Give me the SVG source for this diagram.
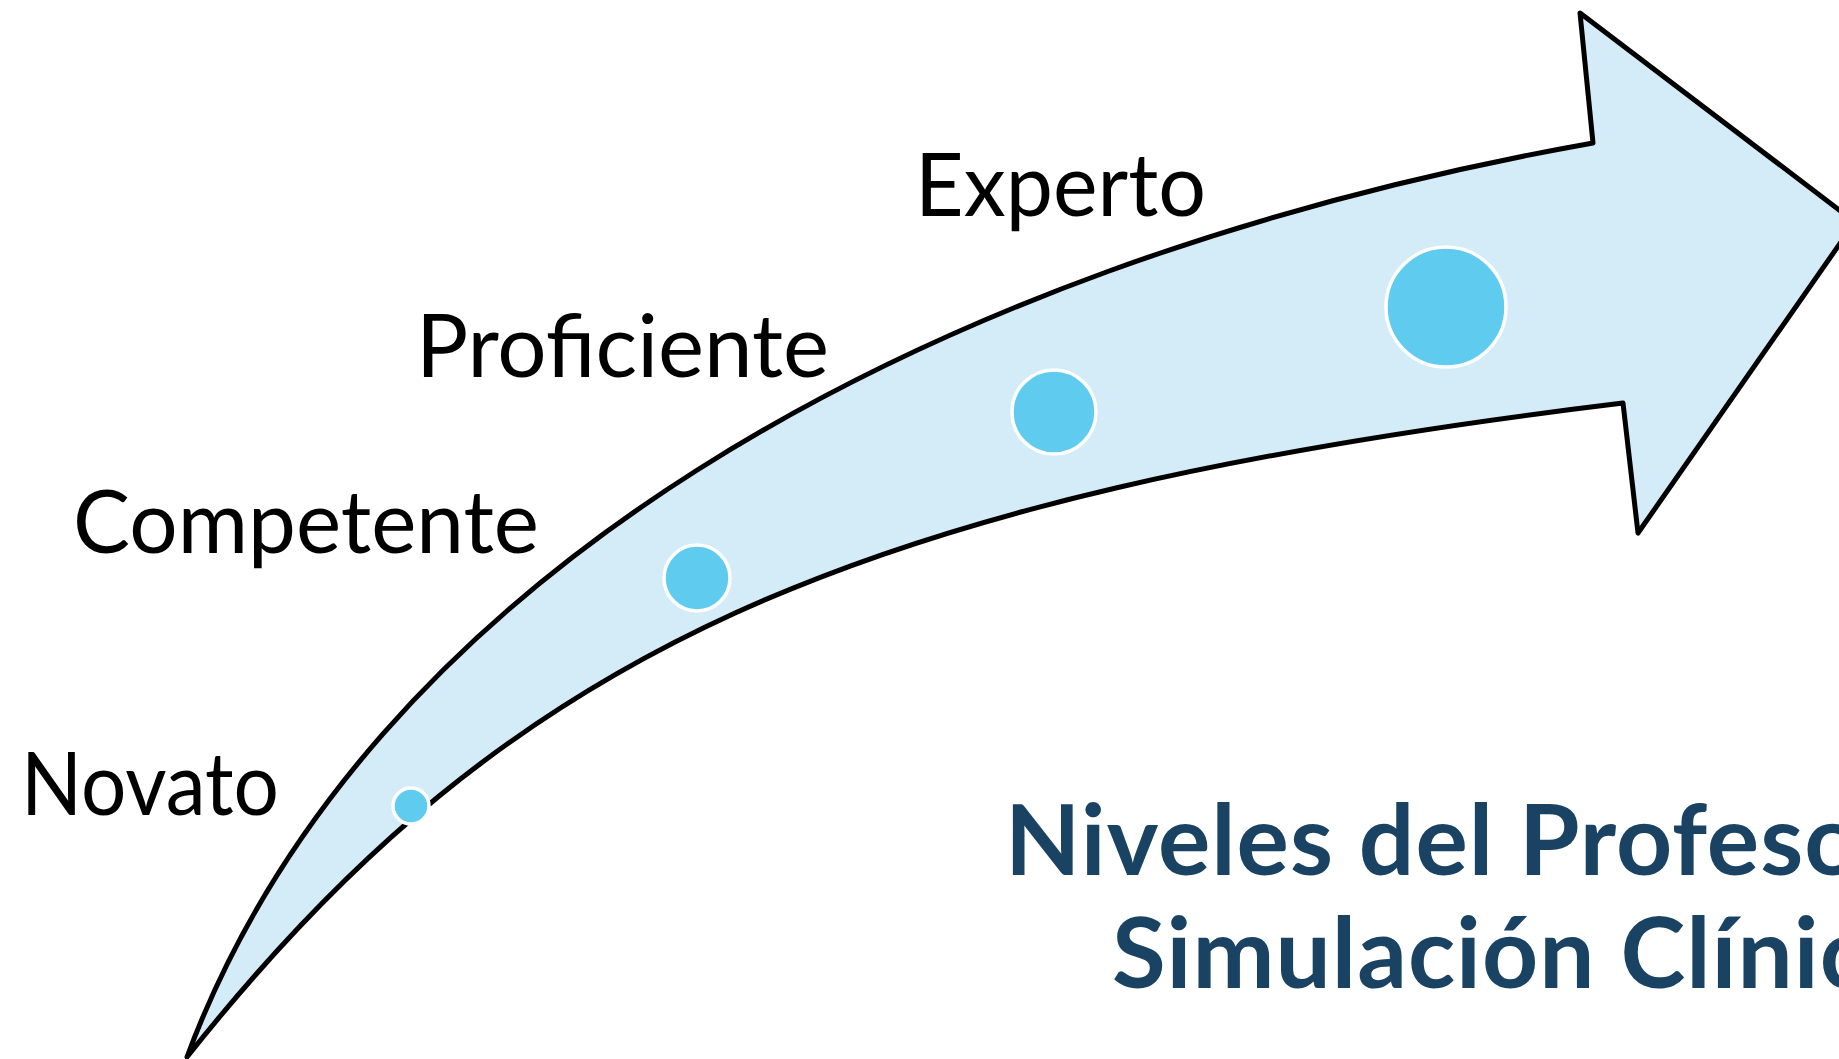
<svg xmlns="http://www.w3.org/2000/svg" width="1839" height="1059" viewBox="0 0 1839 1059">
  <style>
    .arrow { fill: #D4EBF8; stroke: #000000; stroke-width: 5; stroke-linejoin: round; }
    .dot { fill: #5FCBEF; stroke: #FFFFFF; stroke-width: 3.5; }
    .label { font-family: Lato, "Open Sans", "Liberation Sans", sans-serif; font-size: 87px; fill: #000000; }
    .title { font-family: Lato, "Open Sans", "Liberation Sans", sans-serif; font-size: 98px; font-weight: bold; fill: #1A4363; }
  </style>
  <rect width="1839" height="1059" fill="#FFFFFF"/>
  <g id="connectors">
    <path id="arrow" class="arrow" d="M 187,1057 C 361,588 904,266 1593,143 L 1580,13 L 1855,222 L 1638,533 L 1623,403 C 848,497 509,651 187,1057 Z"/>
  </g>
  <g id="node-novato">
    <circle class="dot" cx="411" cy="806" r="18"/>
    <text class="label" x="21" y="815" textLength="258" lengthAdjust="spacingAndGlyphs">Novato</text>
  </g>
  <g id="node-competente">
    <circle class="dot" cx="697" cy="578" r="33"/>
    <text class="label" x="73" y="553" textLength="466" lengthAdjust="spacingAndGlyphs">Competente</text>
  </g>
  <g id="node-proficiente">
    <circle class="dot" cx="1054" cy="412" r="42"/>
    <text class="label" x="416" y="377" textLength="413" lengthAdjust="spacingAndGlyphs">Proficiente</text>
  </g>
  <g id="node-experto">
    <circle class="dot" cx="1446" cy="307" r="60" stroke-width="4"/>
    <text class="label" x="915" y="216" textLength="291" lengthAdjust="spacingAndGlyphs">Experto</text>
  </g>
  <g id="title">
    <text class="title" x="1005" y="875" letter-spacing="1">Niveles del Profesor en</text>
    <text class="title" x="1112" y="988" letter-spacing="1">Simulación Clínica</text>
  </g>
</svg>
